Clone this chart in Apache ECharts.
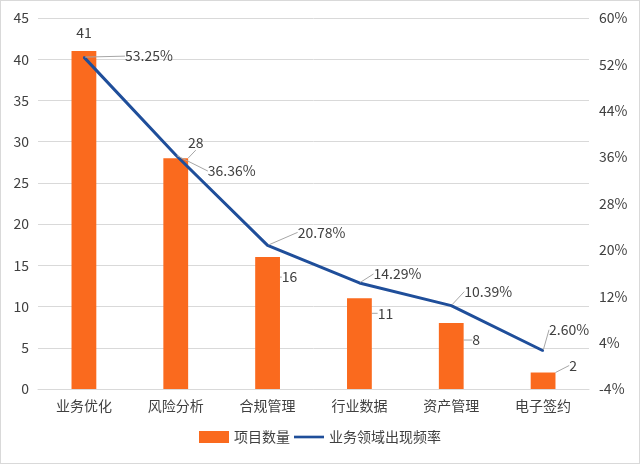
<!DOCTYPE html>
<html><head><meta charset="utf-8">
<script src="https://cdn.jsdelivr.net/npm/echarts@6/dist/echarts.min.js"></script>
<style>html,body{margin:0;padding:0;background:#fff}#c{width:640px;height:464px;box-sizing:border-box;border:1px solid #d9d9d9}</style>
</head><body><div id="c"></div>
<script>
var categories = ['业务优化','风险分析','合规管理','行业数据','资产管理','电子签约'];
var projectCounts = [41, 28, 16, 11, 8, 2];
var frequencyPct = [53.25, 36.36, 20.78, 14.29, 10.39, 2.60];
var leftTicks = {min: 0, max: 45, interval: 5};
var rightTicks = {min: -4, max: 60, interval: 8};
var seriesNames = ['项目数量', '业务领域出现频率'];

// label offsets (style only)
var barLabelOffsets = [[0,-6],[20,-3],[22,32],[26,27],[25,29],[30,5]];
var lineLabelOffsets = [[65,12],[56,29],[54,0],[38,4],[37,-1],[26,-8]];

var font = "'Noto Sans CJK SC', 'Microsoft YaHei', sans-serif";
var txt = '#404040';

var chart = echarts.init(document.getElementById('c'), null, {renderer: 'canvas'});
chart.setOption({
  animation: false,
  textStyle: {fontFamily: font},
  grid: {left: 37, right: 50, top: 17, bottom: 74},
  legend: {
    bottom: 14, left: 'center', itemWidth: 30, itemHeight: 12, itemGap: 4,
    textStyle: {color: txt, fontSize: 14, fontFamily: font},
    data: [{name: seriesNames[0], icon: 'rect'},
           {name: seriesNames[1], icon: 'path://M0,0 L34,0 L34,3 L0,3 Z'}]
  },
  xAxis: {
    type: 'category', data: categories,
    axisLine: {lineStyle: {color: '#d9d9d9'}}, axisTick: {show: false},
    axisLabel: {color: txt, fontSize: 14, margin: 10, fontFamily: font}
  },
  yAxis: [{
    type: 'value', min: leftTicks.min, max: leftTicks.max, interval: leftTicks.interval,
    axisLine: {show: false}, axisTick: {show: false},
    axisLabel: {color: txt, fontSize: 14, margin: 9, fontFamily: font},
    splitLine: {lineStyle: {color: '#d9d9d9'}}
  }, {
    type: 'value', min: rightTicks.min, max: rightTicks.max, interval: rightTicks.interval,
    axisLine: {show: false}, axisTick: {show: false},
    axisLabel: {color: txt, fontSize: 14, margin: 10, fontFamily: font, formatter: '{value}%'},
    splitLine: {show: false}
  }],
  series: [{
    name: seriesNames[0], type: 'bar', yAxisIndex: 0, barWidth: '27%',
    itemStyle: {color: '#FA6A1E'},
    data: projectCounts.map(function(v, i){
      return {value: v, labelLine: {show: i !== 0}};
    }),
    label: {show: true, position: 'top', distance: 5, color: txt, fontSize: 14, fontFamily: font},
    labelLine: {show: true, lineStyle: {color: '#a6a6a6', width: 1}},
    labelLayout: function(p){
      var o = barLabelOffsets[p.dataIndex];
      return {dx: o[0], dy: o[1]};
    }
  }, {
    name: seriesNames[1], type: 'line', yAxisIndex: 1,
    symbol: 'circle', symbolSize: 2, showSymbol: true,
    lineStyle: {color: '#1F4E9A', width: 3},
    itemStyle: {color: '#1F4E9A'},
    data: frequencyPct,
    label: {show: true, position: 'top', distance: 5, color: txt, fontSize: 14, fontFamily: font,
      formatter: function(p){ return p.value.toFixed(2) + '%'; }},
    labelLine: {show: true, lineStyle: {color: '#a6a6a6', width: 1}},
    labelLayout: function(p){
      var o = lineLabelOffsets[p.dataIndex];
      return {dx: o[0], dy: o[1]};
    }
  }]
});
</script></body></html>
